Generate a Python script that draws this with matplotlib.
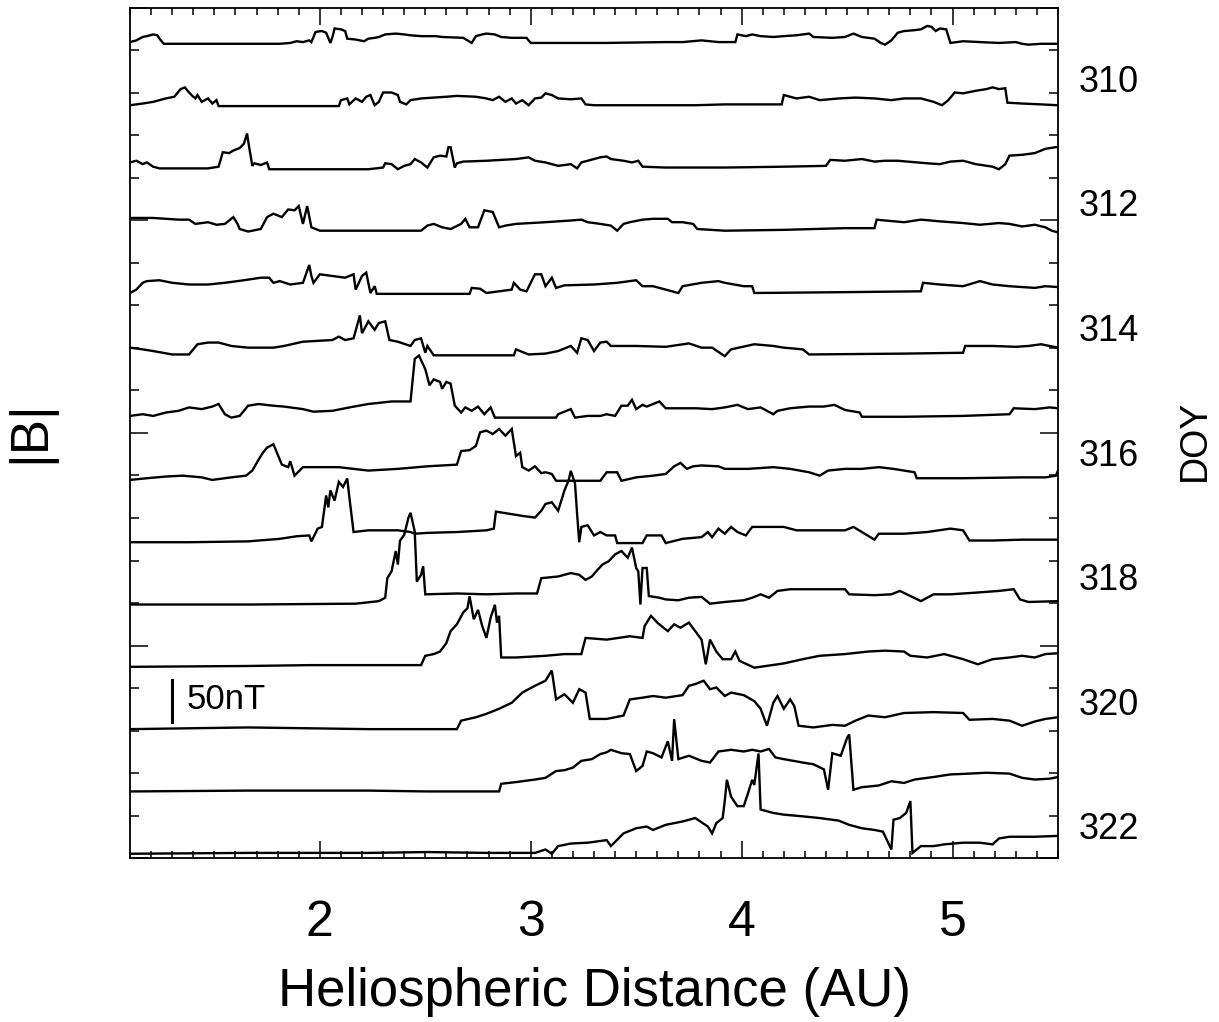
import matplotlib
matplotlib.use("Agg")
from matplotlib import pyplot as plt
from matplotlib.ticker import MultipleLocator

# |B| (nT) against heliospheric distance (AU), one trace per day of year
b309 = [(1.10, 7), (1.13, 9), (1.16, 13), (1.18, 14), (1.21, 16), (1.23, 15), (1.24, 11), (1.26, 5),
        (1.38, 5), (1.52, 5), (1.66, 5), (1.81, 5), (1.86, 6), (1.89, 8), (1.92, 7), (1.95, 9),
        (1.96, 7), (1.98, 19), (2.01, 20), (2.03, 18), (2.05, 6), (2.06, 13), (2.07, 23), (2.10, 22),
        (2.12, 20), (2.13, 11), (2.17, 10), (2.21, 8), (2.23, 11), (2.26, 12), (2.28, 13), (2.31, 16),
        (2.36, 17), (2.40, 16), (2.43, 15), (2.48, 14), (2.55, 14), (2.58, 13), (2.68, 12), (2.70, 9),
        (2.72, 6), (2.74, 14), (2.77, 16), (2.79, 17), (2.83, 16), (2.86, 13), (2.91, 12), (2.98, 12),
        (3.00, 6), (3.07, 6), (3.36, 6), (3.64, 7), (3.72, 7), (3.81, 9), (3.89, 7), (3.97, 7),
        (3.98, 16), (4.02, 14), (4.05, 16), (4.09, 14), (4.15, 13), (4.20, 14), (4.26, 15), (4.32, 17),
        (4.34, 13), (4.43, 12), (4.49, 13), (4.53, 17), (4.57, 13), (4.63, 11), (4.66, 6), (4.68, 4),
        (4.71, 9), (4.74, 18), (4.77, 20), (4.82, 21), (4.85, 22), (4.88, 26), (4.90, 25), (4.92, 20),
        (4.94, 23), (4.97, 22), (4.99, 6), (5.05, 8), (5.13, 7), (5.22, 6), (5.30, 7), (5.33, 5),
        (5.36, 4), (5.42, 5), (5.50, 5)]

b310 = [(1.10, 6), (1.16, 8), (1.21, 10), (1.27, 14), (1.31, 16), (1.34, 25), (1.36, 27), (1.38, 21),
        (1.40, 16), (1.41, 14), (1.42, 18), (1.44, 10), (1.47, 14), (1.49, 8), (1.51, 12), (1.52, 5),
        (2.09, 5), (2.10, 12), (2.13, 14), (2.14, 7), (2.17, 14), (2.20, 10), (2.22, 16), (2.24, 18),
        (2.26, 6), (2.28, 10), (2.30, 21), (2.34, 21), (2.37, 18), (2.38, 10), (2.41, 7), (2.43, 12),
        (2.48, 14), (2.54, 15), (2.60, 16), (2.65, 17), (2.74, 16), (2.79, 14), (2.82, 12), (2.85, 16),
        (2.88, 10), (2.91, 14), (2.93, 8), (2.96, 12), (2.99, 6), (3.02, 14), (3.05, 15), (3.07, 20),
        (3.10, 18), (3.13, 14), (3.19, 13), (3.24, 14), (3.26, 7), (3.30, 6), (3.50, 6), (3.78, 6),
        (3.92, 7), (4.19, 7), (4.20, 18), (4.23, 16), (4.26, 14), (4.32, 16), (4.37, 12), (4.46, 14),
        (4.54, 15), (4.63, 14), (4.71, 12), (4.77, 14), (4.85, 14), (4.91, 10), (4.95, 6), (4.98, 12),
        (5.01, 21), (5.05, 20), (5.11, 23), (5.16, 25), (5.19, 27), (5.22, 25), (5.25, 26), (5.26, 9),
        (5.33, 8), (5.42, 7), (5.50, 6)]

b311 = [(1.10, 12), (1.13, 14), (1.16, 10), (1.18, 12), (1.21, 7), (1.24, 5), (1.33, 5), (1.47, 5),
        (1.52, 7), (1.54, 24), (1.57, 23), (1.59, 26), (1.62, 29), (1.64, 34), (1.655, 46), (1.665, 30),
        (1.68, 8), (1.69, 11), (1.72, 9), (1.75, 12), (1.76, 4), (1.95, 4), (2.23, 4), (2.30, 6),
        (2.31, 11), (2.34, 10), (2.37, 4), (2.40, 8), (2.43, 10), (2.45, 16), (2.48, 12), (2.51, 6),
        (2.54, 18), (2.57, 20), (2.60, 19), (2.61, 30), (2.62, 30), (2.64, 6), (2.65, 11), (2.68, 13),
        (2.79, 14), (2.93, 16), (2.99, 18), (3.02, 14), (3.07, 12), (3.13, 8), (3.19, 10), (3.22, 5),
        (3.24, 12), (3.27, 14), (3.33, 18), (3.36, 19), (3.38, 16), (3.44, 14), (3.48, 12), (3.51, 14),
        (3.53, 7), (3.64, 6), (3.92, 6), (4.20, 7), (4.40, 8), (4.42, 15), (4.49, 14), (4.57, 16),
        (4.63, 13), (4.68, 14), (4.74, 14), (4.88, 11), (4.94, 10), (4.99, 13), (5.05, 14), (5.11, 10),
        (5.19, 7), (5.22, 4), (5.25, 10), (5.27, 20), (5.33, 21), (5.39, 23), (5.44, 28), (5.49, 30),
        (5.50, 30)]

b312 = [(1.10, 20), (1.21, 20), (1.33, 18), (1.38, 18), (1.41, 13), (1.47, 15), (1.51, 12), (1.55, 13),
        (1.59, 21), (1.61, 13), (1.62, 7), (1.66, 4), (1.72, 7), (1.75, 21), (1.78, 25), (1.82, 21),
        (1.85, 30), (1.88, 29), (1.90, 34), (1.92, 13), (1.94, 34), (1.96, 9), (2.00, 5), (2.48, 5),
        (2.51, 11), (2.54, 13), (2.58, 9), (2.62, 7), (2.67, 13), (2.69, 19), (2.71, 9), (2.75, 9),
        (2.78, 29), (2.82, 27), (2.85, 9), (2.88, 11), (2.93, 13), (3.07, 15), (3.19, 17), (3.24, 18),
        (3.27, 15), (3.33, 13), (3.38, 11), (3.41, 5), (3.44, 13), (3.47, 15), (3.53, 18), (3.58, 19),
        (3.65, 19), (3.67, 15), (3.72, 15), (3.77, 13), (3.79, 7), (3.92, 5), (4.20, 6), (4.49, 8),
        (4.63, 8), (4.64, 18), (4.68, 17), (4.77, 15), (4.85, 18), (4.94, 16), (5.05, 14), (5.13, 12),
        (5.22, 14), (5.27, 13), (5.33, 10), (5.39, 12), (5.44, 9), (5.47, 5), (5.50, 3)]

b313 = [(1.10, 5), (1.13, 9), (1.16, 17), (1.18, 19), (1.24, 20), (1.30, 17), (1.38, 15), (1.47, 15),
        (1.55, 17), (1.64, 20), (1.72, 23), (1.76, 23), (1.78, 17), (1.81, 19), (1.86, 15), (1.92, 17),
        (1.95, 38), (1.96, 25), (1.97, 17), (2.00, 27), (2.06, 25), (2.12, 23), (2.16, 27), (2.17, 9),
        (2.20, 25), (2.22, 29), (2.24, 5), (2.26, 13), (2.27, 4), (2.71, 4), (2.72, 11), (2.76, 10),
        (2.79, 5), (2.85, 7), (2.91, 9), (2.92, 17), (2.95, 9), (2.98, 7), (3.02, 27), (3.05, 27),
        (3.07, 13), (3.10, 23), (3.12, 11), (3.16, 14), (3.30, 15), (3.41, 17), (3.50, 20), (3.53, 13),
        (3.58, 13), (3.64, 9), (3.70, 5), (3.72, 13), (3.81, 17), (3.89, 19), (3.92, 17), (4.01, 13),
        (4.05, 13), (4.06, 5), (4.49, 6), (4.85, 7), (4.86, 17), (4.94, 15), (5.05, 13), (5.13, 19),
        (5.19, 15), (5.27, 13), (5.39, 11), (5.44, 13), (5.50, 12)]

b314 = [(1.10, 14), (1.16, 12), (1.21, 10), (1.30, 6), (1.38, 6), (1.42, 18), (1.47, 20), (1.52, 20),
        (1.58, 16), (1.66, 14), (1.78, 14), (1.83, 16), (1.92, 21), (2.06, 23), (2.09, 27), (2.12, 23),
        (2.16, 25), (2.19, 52), (2.20, 31), (2.23, 45), (2.26, 35), (2.28, 43), (2.31, 45), (2.33, 23),
        (2.37, 21), (2.43, 16), (2.45, 23), (2.48, 25), (2.50, 8), (2.51, 16), (2.54, 5), (2.92, 5),
        (2.93, 12), (2.99, 6), (3.07, 7), (3.13, 10), (3.19, 16), (3.22, 8), (3.24, 25), (3.27, 23),
        (3.30, 10), (3.33, 20), (3.36, 21), (3.38, 16), (3.50, 16), (3.64, 15), (3.75, 19), (3.81, 14),
        (3.86, 14), (3.92, 4), (3.95, 12), (4.06, 18), (4.15, 16), (4.20, 14), (4.29, 12), (4.32, 6),
        (4.77, 7), (5.05, 8), (5.06, 16), (5.19, 16), (5.30, 15), (5.36, 16), (5.42, 18), (5.46, 16),
        (5.50, 14)]

b315 = [(1.10, 7), (1.16, 9), (1.21, 7), (1.27, 11), (1.33, 13), (1.38, 17), (1.44, 15), (1.49, 18),
        (1.52, 21), (1.55, 9), (1.58, 5), (1.62, 7), (1.66, 19), (1.71, 21), (1.78, 19), (1.83, 18),
        (1.92, 15), (1.97, 12), (2.06, 13), (2.14, 17), (2.23, 21), (2.34, 24), (2.43, 24), (2.45, 74),
        (2.47, 78), (2.50, 62), (2.52, 43), (2.54, 50), (2.57, 47), (2.58, 39), (2.60, 47), (2.62, 45),
        (2.64, 19), (2.67, 11), (2.69, 17), (2.72, 13), (2.75, 18), (2.78, 9), (2.81, 17), (2.83, 5),
        (3.12, 5), (3.13, 9), (3.19, 15), (3.21, 5), (3.27, 7), (3.33, 7), (3.36, 9), (3.40, 7),
        (3.43, 19), (3.46, 19), (3.48, 26), (3.50, 15), (3.53, 20), (3.55, 18), (3.58, 21), (3.61, 24),
        (3.64, 16), (3.78, 16), (3.86, 15), (3.92, 17), (3.98, 20), (4.03, 15), (4.09, 17), (4.15, 9),
        (4.17, 13), (4.23, 16), (4.32, 18), (4.39, 18), (4.44, 20), (4.49, 14), (4.56, 11), (4.57, 6),
        (4.77, 6), (5.05, 7), (5.27, 9), (5.29, 16), (5.39, 15), (5.46, 17), (5.50, 16)]

b316 = [(1.10, 5), (1.18, 7), (1.27, 9), (1.35, 10), (1.44, 8), (1.49, 5), (1.58, 8), (1.65, 10),
        (1.68, 16), (1.71, 29), (1.73, 37), (1.75, 43), (1.78, 47), (1.79, 41), (1.82, 23), (1.85, 20),
        (1.86, 27), (1.88, 10), (1.92, 20), (1.97, 20), (2.09, 20), (2.23, 16), (2.37, 18), (2.51, 21),
        (2.65, 23), (2.67, 39), (2.71, 40), (2.74, 45), (2.76, 61), (2.79, 63), (2.82, 59), (2.85, 65),
        (2.88, 57), (2.91, 65), (2.93, 33), (2.95, 37), (2.96, 20), (2.99, 16), (3.02, 21), (3.05, 13),
        (3.07, 14), (3.10, 12), (3.12, 4), (3.33, 4), (3.36, 14), (3.41, 14), (3.43, 4), (3.50, 8),
        (3.58, 10), (3.64, 12), (3.68, 21), (3.71, 25), (3.74, 18), (3.77, 21), (3.81, 22), (3.89, 21),
        (3.92, 18), (4.03, 18), (4.15, 20), (4.23, 18), (4.32, 14), (4.37, 10), (4.41, 16), (4.49, 18),
        (4.57, 18), (4.65, 20), (4.72, 18), (4.77, 16), (4.82, 14), (4.83, 7), (5.05, 7), (5.33, 8),
        (5.44, 8), (5.49, 10), (5.50, 16)]

b317 = [(1.10, 5), (1.38, 5), (1.66, 6), (1.81, 9), (1.89, 12), (1.95, 13), (1.96, 6), (1.99, 21),
        (2.01, 23), (2.03, 60), (2.04, 46), (2.05, 66), (2.07, 54), (2.09, 76), (2.11, 70), (2.13, 80),
        (2.14, 58), (2.16, 17), (2.23, 19), (2.37, 19), (2.43, 17), (2.45, 15), (2.51, 16), (2.65, 17),
        (2.79, 19), (2.825, 21), (2.835, 41), (2.91, 38), (2.96, 36), (3.02, 34), (3.05, 42), (3.07, 50),
        (3.10, 52), (3.13, 42), (3.15, 58), (3.16, 66), (3.18, 78), (3.19, 89), (3.21, 74), (3.22, 38),
        (3.23, 5), (3.24, 23), (3.27, 25), (3.30, 13), (3.33, 17), (3.36, 13), (3.40, 13), (3.41, 4),
        (3.53, 4), (3.55, 13), (3.62, 13), (3.64, 4), (3.72, 9), (3.81, 11), (3.84, 17), (3.86, 11),
        (3.89, 21), (3.92, 15), (3.95, 23), (3.98, 17), (4.02, 13), (4.05, 23), (4.20, 23), (4.26, 19),
        (4.34, 19), (4.49, 19), (4.53, 23), (4.57, 17), (4.63, 8), (4.65, 15), (4.77, 15), (4.88, 17),
        (4.99, 21), (5.05, 19), (5.08, 7), (5.19, 7), (5.33, 8), (5.50, 8)]

b318 = [(1.10, 5), (1.66, 5), (2.17, 6), (2.28, 9), (2.31, 13), (2.32, 36), (2.34, 44), (2.36, 68),
        (2.37, 52), (2.38, 80), (2.40, 87), (2.42, 107), (2.43, 113), (2.45, 91), (2.46, 32), (2.48, 40),
        (2.49, 50), (2.50, 17), (2.65, 18), (2.79, 17), (2.93, 18), (3.03, 18), (3.05, 36), (3.13, 38),
        (3.19, 42), (3.23, 40), (3.26, 34), (3.29, 38), (3.31, 44), (3.34, 52), (3.37, 56), (3.40, 64),
        (3.43, 68), (3.46, 60), (3.48, 72), (3.50, 48), (3.51, 44), (3.52, 5), (3.53, 48), (3.55, 48),
        (3.56, 15), (3.61, 13), (3.64, 11), (3.70, 10), (3.75, 13), (3.81, 14), (3.85, 6), (3.92, 8),
        (4.01, 10), (4.05, 13), (4.09, 17), (4.13, 13), (4.17, 21), (4.23, 23), (4.49, 23), (4.51, 17),
        (4.63, 16), (4.71, 17), (4.75, 21), (4.80, 15), (4.85, 9), (4.91, 17), (4.99, 17), (5.11, 19),
        (5.22, 21), (5.29, 23), (5.32, 11), (5.36, 8), (5.50, 9)]

b319 = [(1.10, 5), (1.66, 6), (1.95, 7), (2.48, 7), (2.50, 18), (2.54, 20), (2.57, 23), (2.60, 33),
        (2.62, 47), (2.65, 55), (2.68, 69), (2.70, 74), (2.71, 88), (2.73, 61), (2.75, 72), (2.77, 53),
        (2.79, 39), (2.81, 63), (2.83, 78), (2.84, 57), (2.85, 65), (2.86, 16), (2.93, 16), (3.07, 18),
        (3.16, 20), (3.24, 20), (3.26, 39), (3.36, 37), (3.47, 41), (3.53, 39), (3.54, 53), (3.57, 65),
        (3.60, 57), (3.62, 53), (3.65, 47), (3.68, 55), (3.71, 51), (3.75, 57), (3.78, 47), (3.81, 37),
        (3.83, 8), (3.85, 37), (3.88, 23), (3.91, 14), (3.95, 14), (3.97, 23), (3.99, 12), (4.06, 4),
        (4.20, 9), (4.29, 14), (4.37, 18), (4.49, 20), (4.60, 23), (4.68, 24), (4.77, 23), (4.80, 18),
        (4.88, 16), (4.96, 20), (5.05, 14), (5.12, 8), (5.19, 14), (5.27, 16), (5.33, 18), (5.39, 16),
        (5.44, 20), (5.50, 21)]

b320 = [(1.10, 5), (1.38, 6), (1.66, 7), (1.95, 6), (2.23, 5), (2.65, 5), (2.67, 15), (2.74, 19),
        (2.79, 23), (2.85, 29), (2.91, 36), (2.96, 48), (3.02, 56), (3.07, 62), (3.10, 74), (3.12, 40),
        (3.16, 46), (3.20, 36), (3.23, 52), (3.26, 48), (3.28, 17), (3.36, 17), (3.44, 21), (3.47, 40),
        (3.53, 42), (3.58, 44), (3.64, 42), (3.72, 45), (3.75, 56), (3.78, 58), (3.82, 62), (3.85, 52),
        (3.88, 54), (3.92, 44), (3.95, 48), (4.01, 45), (4.06, 38), (4.09, 29), (4.12, 9), (4.15, 36),
        (4.17, 44), (4.20, 29), (4.23, 40), (4.25, 32), (4.27, 9), (4.34, 7), (4.43, 10), (4.49, 9),
        (4.54, 15), (4.60, 21), (4.68, 19), (4.77, 24), (4.91, 25), (5.05, 24), (5.08, 16), (5.19, 17),
        (5.27, 15), (5.33, 9), (5.39, 14), (5.44, 17), (5.50, 19)]

b321 = [(1.10, 5), (1.66, 6), (2.23, 6), (2.51, 5), (2.85, 5), (2.86, 14), (2.93, 16), (3.02, 19),
        (3.07, 21), (3.12, 29), (3.16, 30), (3.20, 33), (3.24, 41), (3.29, 43), (3.33, 49), (3.36, 51),
        (3.38, 54), (3.43, 50), (3.47, 49), (3.50, 29), (3.53, 35), (3.55, 52), (3.58, 50), (3.62, 45),
        (3.65, 64), (3.67, 41), (3.68, 90), (3.70, 43), (3.75, 47), (3.81, 41), (3.85, 39), (3.89, 52),
        (3.95, 54), (4.01, 52), (4.05, 54), (4.09, 52), (4.13, 55), (4.16, 45), (4.20, 43), (4.29, 39),
        (4.34, 37), (4.39, 31), (4.41, 7), (4.43, 50), (4.47, 47), (4.50, 68), (4.51, 72), (4.53, 7),
        (4.57, 10), (4.65, 12), (4.71, 17), (4.77, 15), (4.82, 19), (4.91, 22), (4.99, 25), (5.08, 26),
        (5.16, 27), (5.27, 26), (5.33, 21), (5.39, 19), (5.46, 20), (5.50, 22)]

b322 = [(1.10, 5), (1.66, 6), (2.23, 6), (2.51, 7), (2.79, 6), (3.02, 6), (3.07, 10), (3.10, 5),
        (3.13, 14), (3.19, 17), (3.27, 18), (3.36, 21), (3.38, 14), (3.44, 29), (3.50, 35), (3.55, 37),
        (3.58, 33), (3.64, 39), (3.72, 43), (3.78, 47), (3.84, 37), (3.86, 29), (3.88, 41), (3.91, 47),
        (3.92, 67), (3.93, 92), (3.95, 72), (3.98, 61), (4.01, 61), (4.03, 76), (4.05, 92), (4.06, 86),
        (4.08, 123), (4.09, 57), (4.15, 53), (4.20, 51), (4.29, 49), (4.37, 47), (4.46, 44), (4.51, 39),
        (4.57, 35), (4.63, 33), (4.67, 31), (4.71, 10), (4.72, 45), (4.75, 47), (4.78, 53), (4.80, 67),
        (4.81, 6), (4.82, 8), (4.85, 14), (4.91, 14), (4.96, 16), (5.05, 18), (5.13, 18), (5.19, 16),
        (5.22, 23), (5.27, 25), (5.39, 25), (5.50, 26)]

doys = [309, 310, 311, 312, 313, 314, 315, 316, 317, 318, 319, 320, 321, 322]
traces = [b309, b310, b311, b312, b313, b314, b315, b316, b317, b318, b319, b320, b321, b322]
doy_labels = [310, 312, 314, 316, 318, 320, 322]
x_ticks = [2, 3, 4, 5]

SPACING = 73.3   # vertical offset between days, in nT

plt.rcParams['font.family'] = ['Liberation Sans', 'DejaVu Sans']

fig = plt.figure(figsize=(12.19, 10.22), dpi=100)
ax = fig.add_axes([130 / 1219, 164 / 1022, 928 / 1219, 850 / 1022])

for doy, pts in zip(doys, traces):
    off = (322 - doy) * SPACING
    xs = [p[0] for p in pts]
    ys = [off + p[1] for p in pts]
    ax.plot(xs, ys, color='black', lw=1.7, solid_joinstyle='miter')

ax.set_xlim(1.1, 5.5)
ax.set_ylim(0, 1000)

ax.xaxis.set_major_locator(MultipleLocator(1))
ax.xaxis.set_minor_locator(MultipleLocator(0.1))
ax.yaxis.set_major_locator(MultipleLocator(250))
ax.yaxis.set_minor_locator(MultipleLocator(50))
ax.tick_params(which='both', direction='in', top=True, right=True, width=1.1)
ax.tick_params(axis='x', which='major', length=12, pad=30, labelsize=36)
ax.tick_params(axis='x', which='minor', length=5)
ax.tick_params(axis='y', which='major', length=13, labelleft=False)
ax.tick_params(axis='y', which='minor', length=6.5)
ax.set_xticks(x_ticks)
ax.set_xticklabels([str(t) for t in x_ticks])
for s in ax.spines.values():
    s.set_linewidth(1.3)

# DOY labels on the right
for d in doy_labels:
    ax.text(1.022, (322 - d) * SPACING + 33, str(d), transform=ax.get_yaxis_transform(),
            ha='left', va='center', fontsize=26)

# 50 nT scale bar
ax.plot([1.30, 1.30], [160, 210], color='black', lw=2.2)
ax.text(1.37, 186, '50nT', ha='left', va='center', fontsize=25)

fig.text(594 / 1219, 1 - 992 / 1022, 'Heliospheric Distance (AU)', ha='center', va='center', fontsize=38)
fig.text(30 / 1219, 1 - 432 / 1022, '|B|', ha='center', va='center', rotation=90, fontsize=38)
fig.text(1195 / 1219, 1 - 440 / 1022, 'DOY', ha='center', va='center', rotation=90, fontsize=27)

fig.savefig('out.png', dpi=100)
